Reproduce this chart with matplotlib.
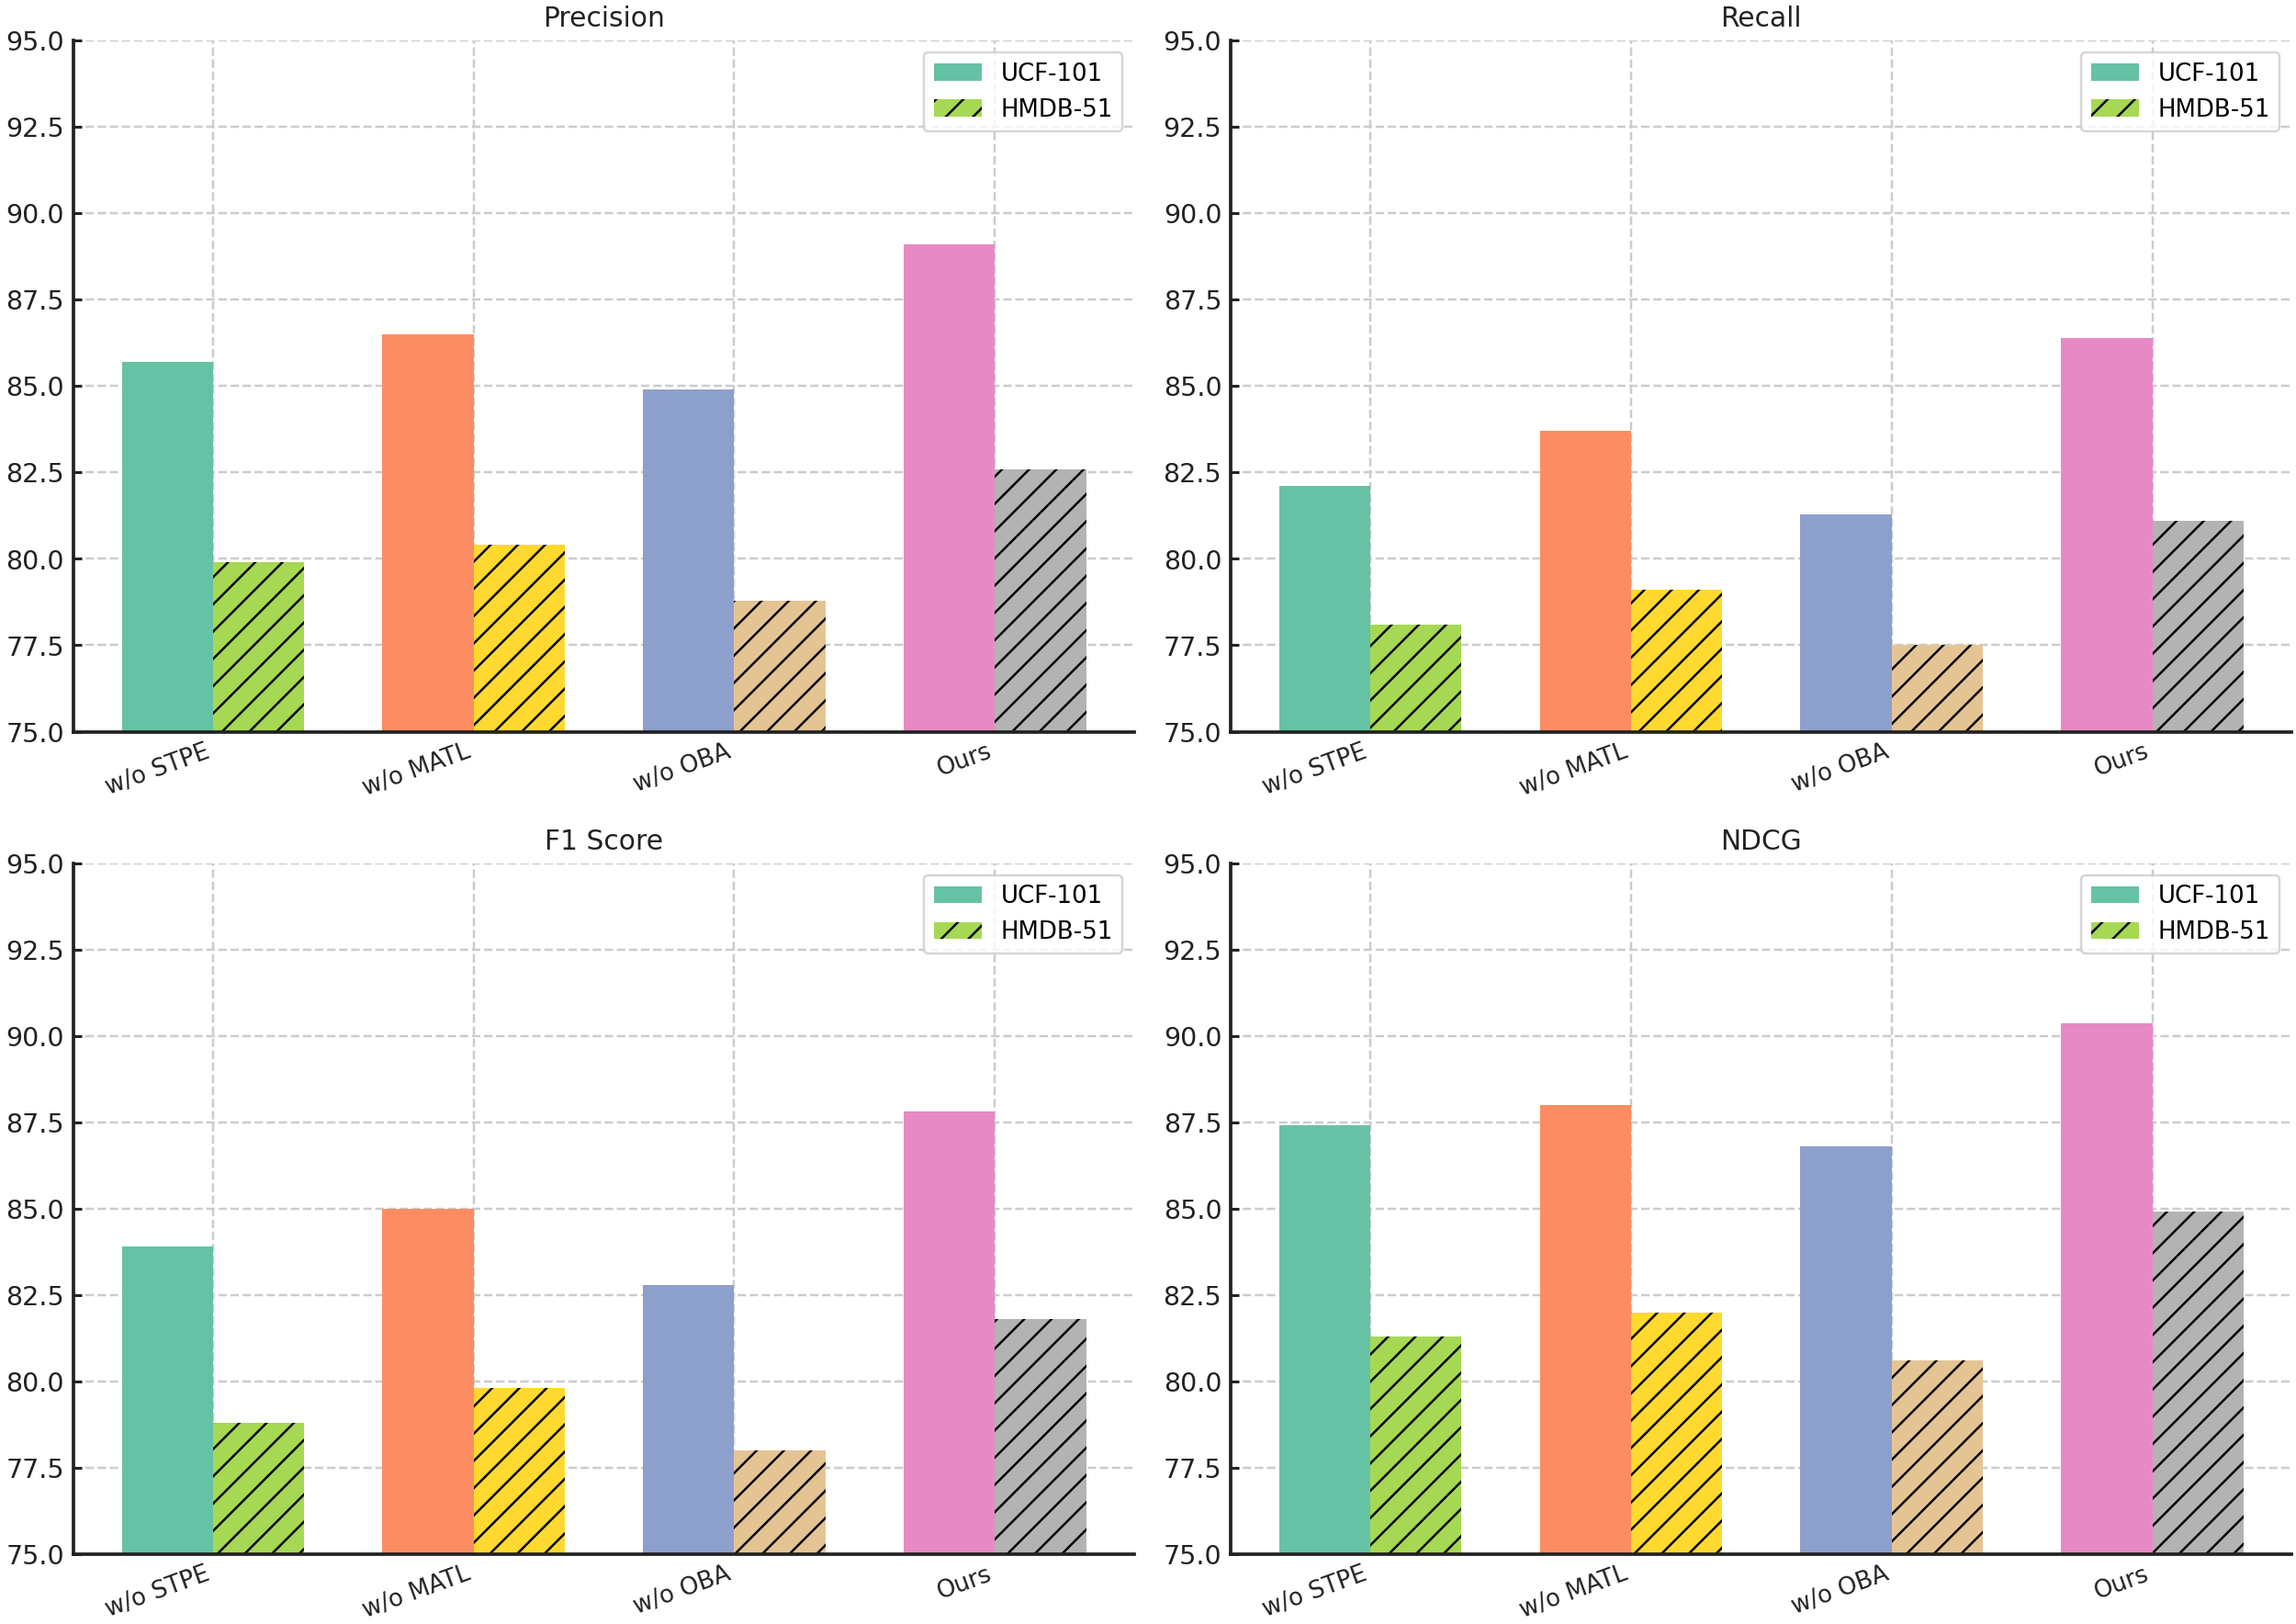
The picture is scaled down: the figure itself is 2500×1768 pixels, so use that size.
import matplotlib
matplotlib.use('Agg')
import matplotlib.pyplot as plt
import numpy as np

# Datos
variantes = ['w/o STPE', 'w/o MATL', 'w/o OBA', 'Ours']
metricas = ['Precision', 'Recall', 'F1 Score', 'NDCG']

ucf_precision = [85.7, 86.5, 84.9, 89.1]
hmdb_precision = [79.9, 80.4, 78.8, 82.6]
ucf_recall = [82.1, 83.7, 81.3, 86.4]
hmdb_recall = [78.1, 79.1, 77.5, 81.1]
ucf_f1 = [83.9, 85.0, 82.8, 87.8]
hmdb_f1 = [78.8, 79.8, 78.0, 81.8]
ucf_ndcg = [87.4, 88.0, 86.8, 90.35]
hmdb_ndcg = [81.3, 82.0, 80.6, 84.9]

valores_ucf = [ucf_precision, ucf_recall, ucf_f1, ucf_ndcg]
valores_hmdb = [hmdb_precision, hmdb_recall, hmdb_f1, hmdb_ndcg]

# Paleta Set2
colores_ucf = ['#66c2a5', '#fc8d62', '#8da0cb', '#e78ac3']
colores_hmdb = ['#a6d854', '#ffd92f', '#e5c494', '#b3b3b3']

fig, axes = plt.subplots(2, 2, figsize=(14, 9.9), dpi=178.6)
plt.subplots_adjust(left=0.032, right=0.998, top=0.975, bottom=0.043,
                    wspace=0.091, hspace=0.19)

x = np.arange(len(variantes))
ancho = 0.35

for ax, titulo, ucf, hmdb in zip(axes.flat, metricas, valores_ucf, valores_hmdb):
    b1 = ax.bar(x - ancho / 2, ucf, ancho, color=colores_ucf, label='UCF-101', zorder=2)
    b2 = ax.bar(x + ancho / 2, hmdb, ancho, color=colores_hmdb, hatch='//',
                label='HMDB-51', zorder=2)
    ax.set_ylim(75, 95)
    ax.set_yticks(np.arange(75, 95.1, 2.5))
    ax.set_xticks(x)
    ax.set_xticklabels(variantes, rotation=20, ha='right', fontsize=10.5, color='#222222')
    ax.tick_params(axis='y', labelsize=11.5, colors='#222222', direction='in',
                   length=3.5, width=1.2, pad=4)
    ax.tick_params(axis='x', direction='in', length=0, pad=3.5)
    ax.set_title(titulo, fontsize=12, color='#222222', pad=6)
    ax.grid(True, linestyle='--', color='#cccccc', linewidth=1.0, zorder=0)
    ax.spines['top'].set_visible(False)
    ax.spines['right'].set_visible(False)
    ax.spines['left'].set_linewidth(1.5)
    ax.spines['bottom'].set_linewidth(1.5)
    ax.spines['left'].set_color('#222222')
    ax.spines['bottom'].set_color('#222222')
    ax.legend(handles=[b1[0], b2[0]], labels=['UCF-101', 'HMDB-51'],
              loc='upper right', fontsize=10.5)

plt.savefig('out.png')
